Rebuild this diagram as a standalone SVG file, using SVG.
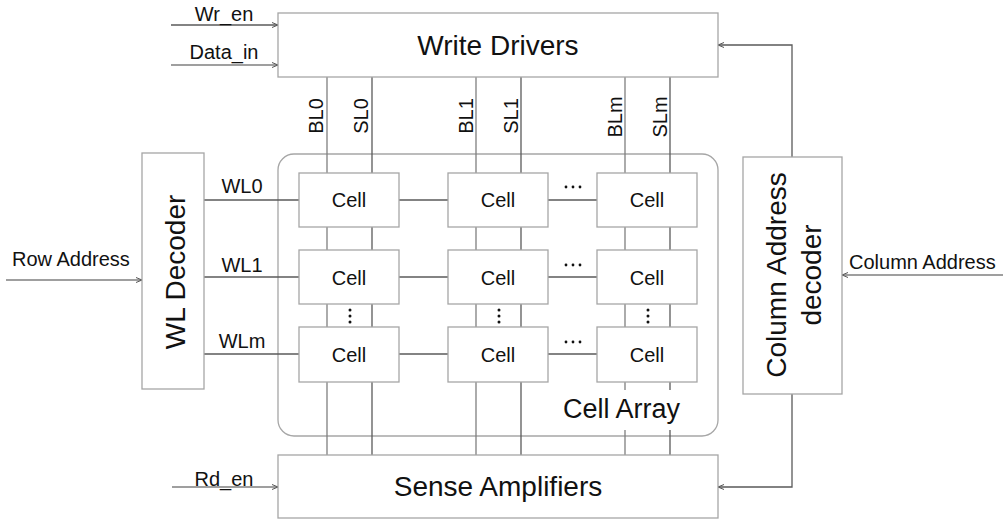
<svg xmlns="http://www.w3.org/2000/svg" width="1003" height="521" viewBox="0 0 1003 521">
<defs>
<style>
.box{fill:#fff;stroke:#a6a6a6;stroke-width:1.3}
.cell{fill:#fff;stroke:#a6a6a6;stroke-width:1.3}
.ln{fill:none;stroke:#7f7f7f;stroke-width:1.3}
.ld{fill:none;stroke:#5a5a5a;stroke-width:1.3}
.t{font-family:"Liberation Sans",Arial,sans-serif;fill:#111}
.big{font-size:28px}
.cl{font-size:20px;text-anchor:middle}
.sm{font-size:20px}
.mid{text-anchor:middle}
</style>
<marker id="ah" markerWidth="7" markerHeight="6" refX="6" refY="3" orient="auto" markerUnits="userSpaceOnUse">
<path d="M0,0.5 L6,3 L0,5.5" fill="none" stroke="#555" stroke-width="1"/>
</marker>
</defs>
<rect width="1003" height="521" fill="#fff"/>

<g id="cell-array">
<rect x="278" y="154" width="440" height="282" rx="16" ry="16" fill="#fff" stroke="#a6a6a6" stroke-width="1.3"/>
</g>

<g id="connectors">
<!-- bit / source lines -->
<line class="ln" x1="327" y1="77" x2="327" y2="455"/>
<line class="ld" x1="372" y1="77" x2="372" y2="455"/>
<line class="ln" x1="476" y1="77" x2="476" y2="455"/>
<line class="ld" x1="521" y1="77" x2="521" y2="455"/>
<line class="ln" x1="625" y1="77" x2="625" y2="455"/>
<line class="ld" x1="670" y1="77" x2="670" y2="455"/>
<!-- word lines -->
<line class="ld" x1="204" y1="200" x2="299" y2="200"/>
<line class="ld" x1="204" y1="277" x2="299" y2="277"/>
<line class="ld" x1="204" y1="354" x2="299" y2="354"/>
<line class="ld" x1="399" y1="200" x2="448" y2="200"/>
<line class="ld" x1="399" y1="277" x2="448" y2="277"/>
<line class="ld" x1="399" y1="354" x2="448" y2="354"/>
<line class="ld" x1="548" y1="200" x2="597" y2="200"/>
<line class="ld" x1="548" y1="277" x2="597" y2="277"/>
<line class="ld" x1="548" y1="354" x2="597" y2="354"/>
<!-- inputs -->
<line class="ld" x1="171" y1="25" x2="278" y2="25" marker-end="url(#ah)"/>
<line class="ln" x1="171" y1="65" x2="278" y2="65" marker-end="url(#ah)"/>
<line class="ln" x1="6" y1="280" x2="142" y2="280" marker-end="url(#ah)"/>
<line class="ln" x1="1003" y1="275" x2="842" y2="275" marker-end="url(#ah)"/>
<line class="ln" x1="172" y1="487" x2="278" y2="487" marker-end="url(#ah)"/>
<polyline class="ld" points="792,157 792,45 718,45" marker-end="url(#ah)"/>
<polyline class="ld" points="792,394 792,487 718,487" marker-end="url(#ah)"/>
</g>

<g id="write-drivers">
<rect class="box" x="278" y="13" width="440" height="64"/>
<text class="t big mid" x="498" y="55">Write Drivers</text>
</g>

<g id="sense-amplifiers">
<rect class="box" x="278" y="455" width="440" height="63"/>
<text class="t big mid" x="498" y="496">Sense Amplifiers</text>
</g>

<g id="wl-decoder">
<rect class="box" x="142" y="153" width="62" height="236"/>
<text class="t big mid" transform="translate(185,272) rotate(-90)">WL Decoder</text>
</g>

<g id="column-decoder">
<rect class="box" x="743" y="157" width="99" height="237"/>
<text class="t big mid" transform="translate(786,275) rotate(-90)">Column Address</text>
<text class="t big mid" transform="translate(821,275) rotate(-90)">decoder</text>
</g>

<g id="cells">
<g id="cell-0-0"><rect class="cell" x="299" y="173" width="100" height="54"/><text class="t cl" x="349" y="207">Cell</text></g>
<g id="cell-0-1"><rect class="cell" x="448" y="173" width="100" height="54"/><text class="t cl" x="498" y="207">Cell</text></g>
<g id="cell-0-m"><rect class="cell" x="597" y="173" width="100" height="54"/><text class="t cl" x="647" y="207">Cell</text></g>
<g id="cell-1-0"><rect class="cell" x="299" y="250" width="100" height="54"/><text class="t cl" x="349" y="285">Cell</text></g>
<g id="cell-1-1"><rect class="cell" x="448" y="250" width="100" height="54"/><text class="t cl" x="498" y="285">Cell</text></g>
<g id="cell-1-m"><rect class="cell" x="597" y="250" width="100" height="54"/><text class="t cl" x="647" y="285">Cell</text></g>
<g id="cell-m-0"><rect class="cell" x="299" y="327" width="100" height="55"/><text class="t cl" x="349" y="362">Cell</text></g>
<g id="cell-m-1"><rect class="cell" x="448" y="327" width="100" height="55"/><text class="t cl" x="498" y="362">Cell</text></g>
<g id="cell-m-m"><rect class="cell" x="597" y="327" width="100" height="55"/><text class="t cl" x="647" y="362">Cell</text></g>
</g>

<g id="ellipses" fill="#111">
<circle cx="566" cy="187" r="1.4"/><circle cx="573" cy="187" r="1.4"/><circle cx="580" cy="187" r="1.4"/>
<circle cx="566" cy="265" r="1.4"/><circle cx="573" cy="265" r="1.4"/><circle cx="580" cy="265" r="1.4"/>
<circle cx="566" cy="342" r="1.4"/><circle cx="573" cy="342" r="1.4"/><circle cx="580" cy="342" r="1.4"/>
<circle cx="350" cy="310" r="1.5"/><circle cx="350" cy="316" r="1.5"/><circle cx="350" cy="322" r="1.5"/>
<circle cx="499" cy="310" r="1.5"/><circle cx="499" cy="316" r="1.5"/><circle cx="499" cy="322" r="1.5"/>
<circle cx="648" cy="310" r="1.5"/><circle cx="648" cy="316" r="1.5"/><circle cx="648" cy="322" r="1.5"/>
</g>

<g id="cell-array-label">
<rect x="556" y="390" width="132" height="40" fill="#fff"/>
<text class="t" font-size="27" text-anchor="end" x="680" y="418">Cell Array</text>
</g>

<g id="labels">
<text class="t sm mid" x="224" y="21">Wr_en</text>
<text class="t sm mid" x="224" y="59">Data_in</text>
<text class="t sm" x="12" y="266">Row Address</text>
<text class="t sm" x="849" y="269">Column Address</text>
<text class="t sm mid" x="224" y="486">Rd_en</text>
<text class="t sm mid" x="242" y="193">WL0</text>
<text class="t sm mid" x="242" y="272">WL1</text>
<text class="t sm mid" x="242" y="348">WLm</text>
<text class="t sm mid" transform="translate(323,116) rotate(-90)">BL0</text>
<text class="t sm mid" transform="translate(368,116) rotate(-90)">SL0</text>
<text class="t sm mid" transform="translate(473,116) rotate(-90)">BL1</text>
<text class="t sm mid" transform="translate(518,116) rotate(-90)">SL1</text>
<text class="t sm mid" transform="translate(622,117) rotate(-90)">BLm</text>
<text class="t sm mid" transform="translate(667,117) rotate(-90)">SLm</text>
</g>
</svg>
